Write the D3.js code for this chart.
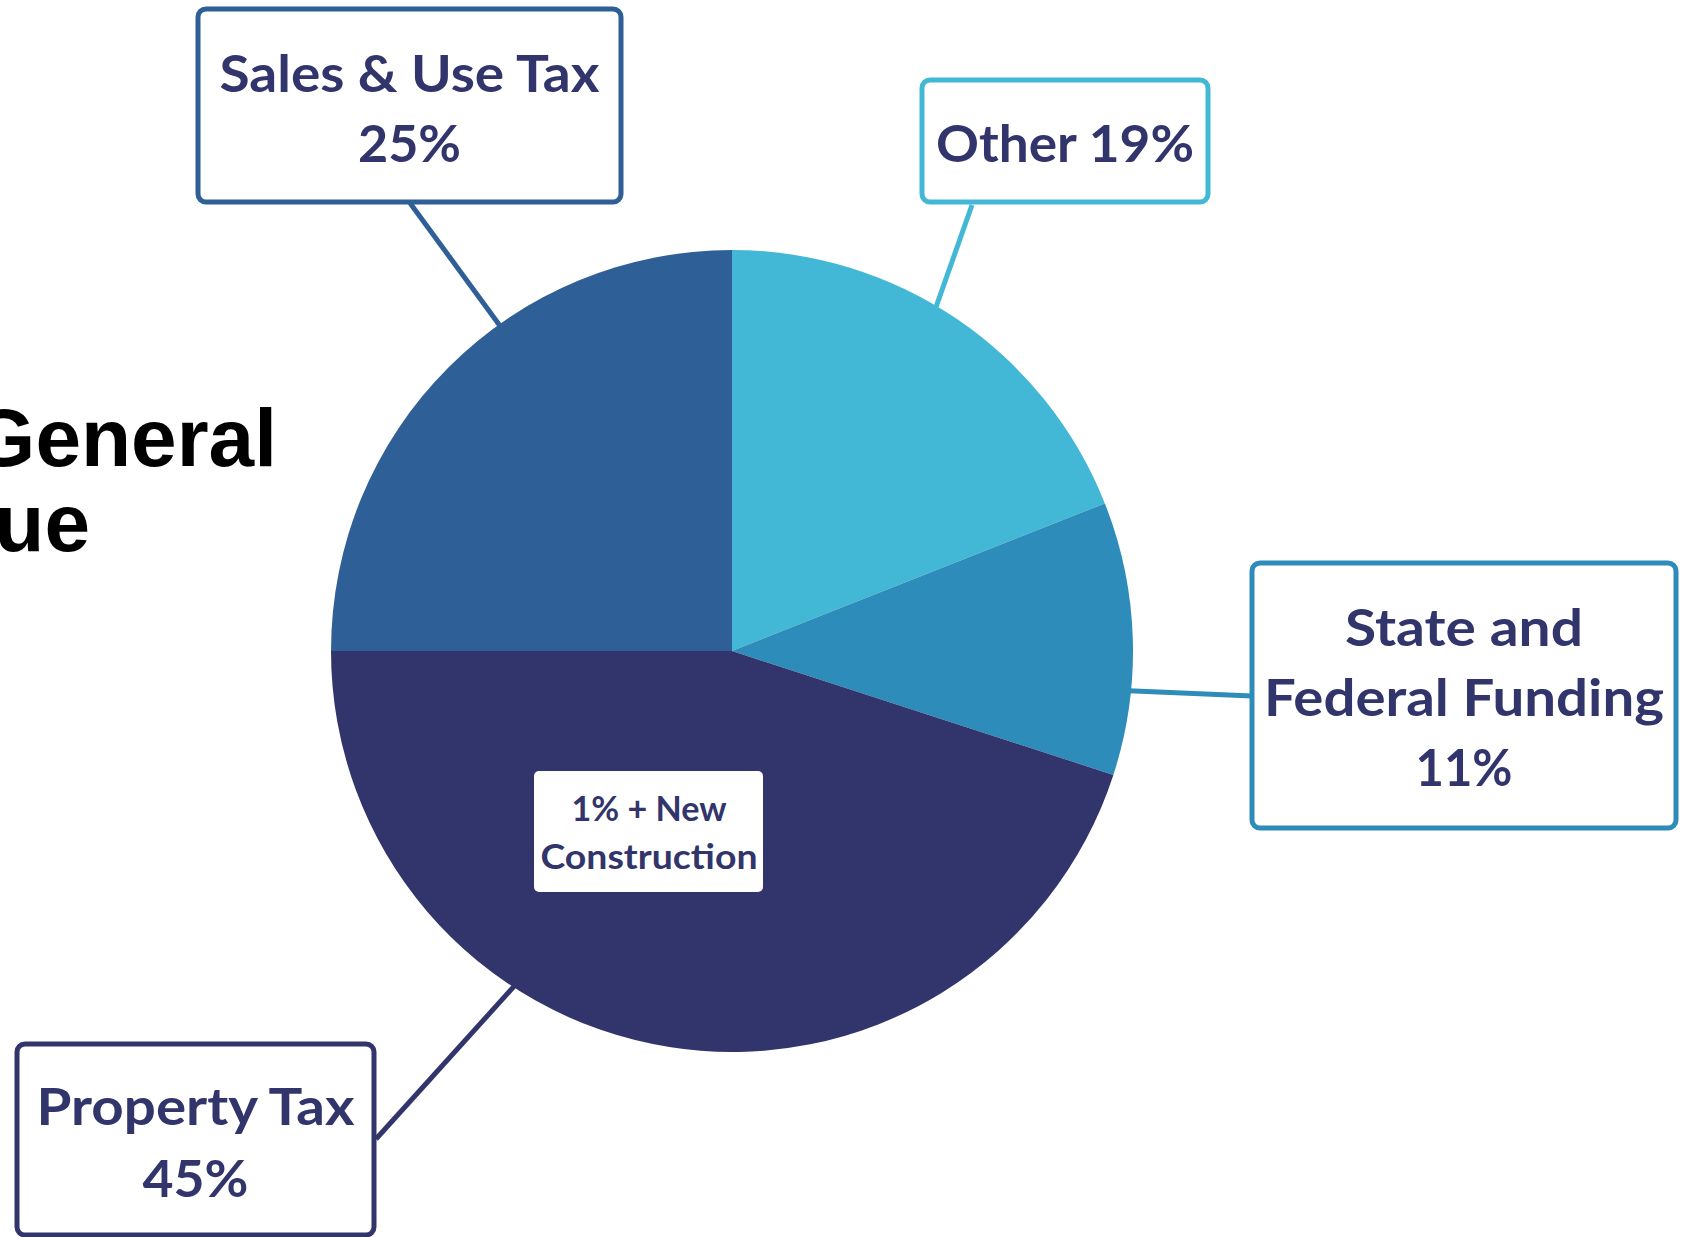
<!DOCTYPE html>
<html><head><meta charset="utf-8">
<script src="https://cdn.jsdelivr.net/npm/d3@7"></script>
<style>html,body{margin:0;padding:0;background:#fff;overflow:hidden}</style>
</head><body>
<svg id="chart" width="1693" height="1237"></svg>
<script>
// ---- data ----
const categories = ["Other", "State and Federal Funding", "Property Tax", "Sales & Use Tax"];
const values = [19, 11, 45, 25];
const labelLines = [["Other 19%"], ["State and", "Federal Funding", "11%"], ["Property Tax", "45%"], ["Sales & Use Tax", "25%"]];
const sliceColors = ["#42b8d6", "#2e8cba", "#32356b", "#2e5f96"];
const titleLines = ["General", "Revenue"];
const noteLines = ["1% + New", "Construction"];

// ---- layout ----
const W = 1693, H = 1237;
const cx = 732, cy = 651, R = 401;
const textColor = "#32356b";
const boxes = [
  {x: 922, y: 80, w: 286, h: 122, base: [162], widths: [258], lead: {angle: 30.7, to: [972, 205]}},
  {x: 1252, y: 563, w: 424, h: 265, base: [646, 716, 786], widths: [238, 400, 97], lead: {angle: 95.7, to: [1252, 696]}},
  {x: 17, y: 1044, w: 357, h: 191, base: [1125, 1197], widths: [318, 106], lead: {angle: 213, to: [376, 1139]}},
  {x: 198, y: 9, w: 423, h: 193, base: [92, 162], widths: [380, 103], lead: {angle: 324.5, to: [410, 203]}}
];
const noteWidths = [155, 217];

const svg = d3.select("#chart");

// title (cut off at left edge, as in the reference)
svg.append("g").selectAll("text").data(titleLines).join("text")
  .attr("x", (d, i) => i === 0 ? 277 : 90)
  .attr("y", (d, i) => 466 + i * 85)
  .attr("text-anchor", "end")
  .attr("font-family", "Liberation Sans, Arial, sans-serif")
  .attr("font-weight", 700)
  .attr("font-size", 82)
  .attr("fill", "#000")
  .text(d => d);

const pie = d3.pie().sort(null).value(d => d)(values);
const arc = d3.arc().innerRadius(0).outerRadius(R);

const g = svg.append("g").attr("transform", `translate(${cx},${cy})`);
g.selectAll("path").data(pie).join("path")
  .attr("d", arc)
  .attr("fill", (d, i) => sliceColors[i]);

// leader lines
svg.append("g").selectAll("line").data(boxes).join("line")
  .attr("x1", d => cx + (R - 2) * Math.sin(d.lead.angle * Math.PI / 180))
  .attr("y1", d => cy - (R - 2) * Math.cos(d.lead.angle * Math.PI / 180))
  .attr("x2", d => d.lead.to[0])
  .attr("y2", d => d.lead.to[1])
  .attr("stroke", (d, i) => sliceColors[i])
  .attr("stroke-width", 5);

// label boxes
const lb = svg.append("g").selectAll("g").data(boxes).join("g");
lb.append("rect")
  .attr("x", d => d.x).attr("y", d => d.y)
  .attr("width", d => d.w).attr("height", d => d.h)
  .attr("rx", 8)
  .attr("fill", "#fff")
  .attr("stroke", (d, i) => sliceColors[i])
  .attr("stroke-width", 5);
lb.each(function(d, i) {
  d3.select(this).selectAll("text").data(labelLines[i]).join("text")
    .attr("x", d.x + d.w / 2)
    .attr("y", (t, j) => d.base[j])
    .attr("text-anchor", "middle")
    .attr("font-family", "Lato, sans-serif")
    .attr("font-weight", 700)
    .attr("font-size", 52)
    .attr("textLength", (t, j) => d.widths[j])
    .attr("lengthAdjust", "spacingAndGlyphs")
    .attr("fill", textColor)
    .text(t => t);
});

// inner note
const note = svg.append("g");
note.append("rect").attr("x", 534).attr("y", 771).attr("width", 229).attr("height", 121)
  .attr("rx", 5).attr("fill", "#fff");
note.selectAll("text").data(noteLines).join("text")
  .attr("x", 649).attr("y", (d, i) => 821 + i * 48)
  .attr("text-anchor", "middle")
  .attr("font-family", "Lato, sans-serif")
  .attr("font-weight", 700)
  .attr("font-size", 35)
  .attr("textLength", (d, i) => noteWidths[i])
  .attr("lengthAdjust", "spacingAndGlyphs")
  .attr("fill", textColor)
  .text(d => d);
</script>
</body></html>
